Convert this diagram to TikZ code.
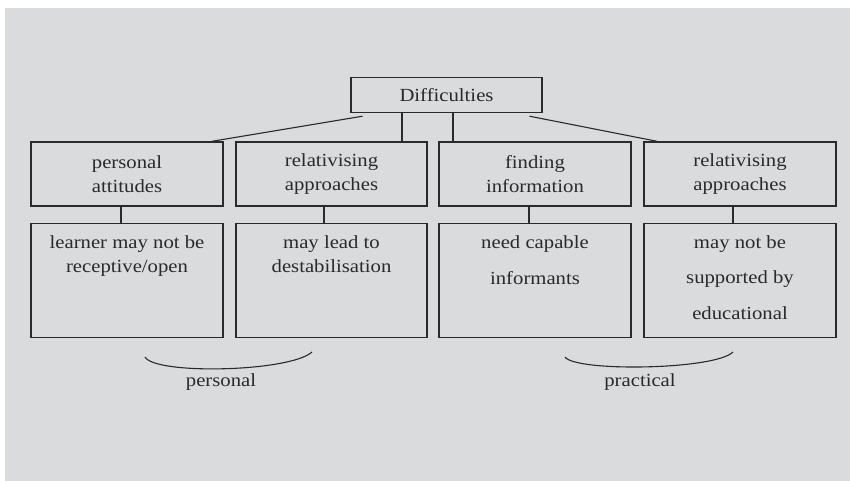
\documentclass[tikz,border=0pt]{standalone}
\usepackage{fontspec}
\setmainfont[FakeStretch=1.12]{Liberation Serif}
\definecolor{bg}{HTML}{DADBDD}
\definecolor{ink}{HTML}{2A2A2A}
\begin{document}
\begin{tikzpicture}[x=1pt,y=-1pt,
  box/.style={draw=ink,line width=1.4pt,fill=bg,inner sep=0pt,text=ink,
    font=\fontsize{18.5}{24}\selectfont,align=center},
  conn/.style={draw=ink,line width=1.1pt},
  lbl/.style={text=ink,font=\fontsize{18.5}{24}\selectfont,inner sep=0pt}]
\useasboundingbox (0,0) rectangle (851,481);
\fill[white] (0,0) rectangle (851,481);
\fill[bg] (5,8) rectangle (850,481);
% top
\node[box,minimum width=191pt,minimum height=35pt] (top) at (446.5,95) {Difficulties};
% second row
\node[box,minimum width=192pt,minimum height=64pt] (a1) at (127,174) {personal\\attitudes};
\node[box,minimum width=191pt,minimum height=64pt] (a2) at (331.5,174) {relativising\\approaches};
\node[box,minimum width=192pt,minimum height=64pt] (a3) at (535,174) {finding\\information};
\node[box,minimum width=192pt,minimum height=64pt] (a4) at (740,174) {relativising\\approaches};
% third row
\node[box,minimum width=192pt,minimum height=114pt,anchor=north] (b1) at (127,223) {};
\node[box,minimum width=191pt,minimum height=114pt,anchor=north] (b2) at (331.5,223) {};
\node[box,minimum width=192pt,minimum height=114pt,anchor=north] (b3) at (535,223) {};
\node[box,minimum width=192pt,minimum height=114pt,anchor=north] (b4) at (740,223) {};
\node[lbl,align=center,anchor=north] (t1) at ([yshift=-12pt]b1.north) {learner may not be\\receptive/open};
\node[lbl,align=center,anchor=north] (t2) at ([yshift=-12pt]b2.north) {may lead to\\destabilisation};
\node[lbl,align=center,anchor=north,font=\fontsize{18.5}{36}\selectfont] (t3) at ([yshift=-12pt]b3.north) {need capable\\informants};
\node[lbl,align=center,anchor=north,font=\fontsize{18.5}{35.5}\selectfont] (t4) at ([yshift=-12pt]b4.north) {may not be\\supported by\\educational};
% connectors top -> row 2
\coordinate (d1) at ([xshift=-84pt,yshift=-3pt]top.south);
\coordinate (d4) at ([xshift=83pt,yshift=-3pt]top.south);
\draw[conn] (d1) -- ([xshift=85pt]a1.north);
\draw[conn] ([xshift=-44.5pt]top.south) -- ([xshift=70.5pt]a2.north);
\draw[conn] ([xshift=6.5pt]top.south) -- ([xshift=-82pt]a3.north);
\draw[conn] (d4) -- ([xshift=-83pt]a4.north);
% connectors row2 -> row3
\draw[conn] ([xshift=-6pt]a1.south) -- ([xshift=-6pt]b1.north);
\draw[conn] ([xshift=-7.5pt]a2.south) -- ([xshift=-7.5pt]b2.north);
\draw[conn] ([xshift=-6pt]a3.south) -- ([xshift=-6pt]b3.north);
\draw[conn] ([xshift=-7pt]a4.south) -- ([xshift=-7pt]b4.north);
% braces
\coordinate (p1) at (145,357);
\coordinate (p2) at (312,352);
\coordinate (q1) at (565,357);
\coordinate (q2) at (733,352);
\draw[conn] (p1) .. controls (155,375) and (290,372) .. (p2);
\draw[conn] (q1) .. controls (575,372) and (715,370) .. (q2);
\node[lbl] (pl) at (221,382) {personal};
\node[lbl] (ql) at (640,382) {practical};
\end{tikzpicture}
\end{document}
